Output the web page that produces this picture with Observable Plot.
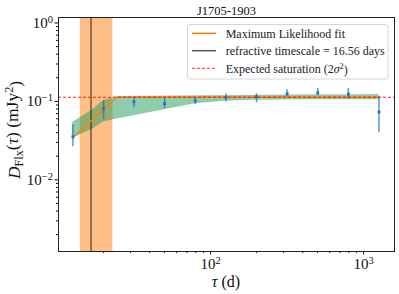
<!DOCTYPE html>
<html><head><meta charset="utf-8">
<script src="https://cdn.jsdelivr.net/npm/d3@7"></script>
<script src="https://cdn.jsdelivr.net/npm/@observablehq/plot@0.6"></script>
<style>body{margin:0;background:#fff;}</style>
</head><body><div id="chart"></div>
<script>
// ---- data ----
const tau        = [12.6, 20.0, 31.6, 50.1, 79.4, 125.9, 199.5, 316.2, 501.2, 794.3, 1258.9];
const dMeasured  = [0.0354, 0.0807, 0.099, 0.0935, 0.102, 0.112, 0.115, 0.125, 0.129, 0.124, 0.0733];
const dErrLow    = [0.0264, 0.0585, 0.083, 0.081, 0.091, 0.098, 0.096, 0.115, 0.117, 0.106, 0.040];
const dErrHigh   = [0.0505, 0.102, 0.111, 0.110, 0.111, 0.124, 0.125, 0.141, 0.147, 0.147, 0.115];

const bandTau    = [12.6, 16.6, 20.0, 24.5, 31.6, 50.1, 79.4, 125.9, 199.5, 316.2, 501.2, 794.3, 1258.9];
const bandLow    = [0.0345, 0.0436, 0.055, 0.060, 0.066, 0.079, 0.094, 0.1015, 0.104, 0.105, 0.106, 0.106, 0.106];
const bandHigh   = [0.0538, 0.0754, 0.102, 0.114, 0.115, 0.116, 0.117, 0.118, 0.119, 0.120, 0.121, 0.121, 0.122];

const fitTau     = [12.6, 24.5, 1258.9];
const fitD       = [0.0345, 0.114, 0.114];

const refractiveTimescale = [16.56];
const refractiveRangeLo   = [14.1];
const refractiveRangeHi   = [23.0];
const saturation          = [0.113];

const xMajor = [100, 1000];
const xMinor = [20, 30, 40, 50, 60, 70, 80, 90, 200, 300, 400, 500, 600, 700, 800, 900];
const yMajor = [0.01, 0.1, 1];
const yMinor = [0.002,0.003,0.004,0.005,0.006,0.007,0.008,0.009,0.02,0.03,0.04,0.05,0.06,0.07,0.08,0.09,0.2,0.3,0.4,0.5,0.6,0.7,0.8,0.9];

const titleText = ["J1705-1903"];
const legendLabels = ["Maximum Likelihood fit", "refractive timescale = 16.56 days", "Expected saturation (2"];

// ---- tables ----
const points = tau.map((t, i) => ({t, d: dMeasured[i], lo: dErrLow[i], hi: dErrHigh[i]}));
const band = bandTau.map((t, i) => ({t, lo: bandLow[i], hi: bandHigh[i]}));
const fit = fitTau.map((t, i) => ({t, d: fitD[i]}));
const span = refractiveRangeLo.map((lo, i) => ({lo, hi: refractiveRangeHi[i]}));

const expFmt = d => "10^" + Math.round(Math.log10(d));

const svg = Plot.plot({
  width: 399, height: 294,
  marginLeft: 58, marginRight: 5, marginTop: 17, marginBottom: 43,
  style: {fontFamily: "Liberation Serif", fontSize: "15px", color: "#111", background: "#fff"},
  x: {type: "log", domain: [10.15, 1590]},
  y: {type: "log", domain: [0.00122, 1.175]},
  marks: [
    Plot.rect(span, {x1: "lo", x2: "hi", fill: "#ff7f0e", fillOpacity: 0.5}),
    Plot.areaY(band, {x: "t", y1: "lo", y2: "hi", fill: "#1f9a5a", fillOpacity: 0.5, stroke: "#1f9a5a", strokeOpacity: 0.3, strokeWidth: 0.5}),
    Plot.ruleX(refractiveTimescale, {stroke: "#000", strokeOpacity: 0.55, strokeWidth: 1.5}),
    Plot.line(fit, {x: "t", y: "d", stroke: "#ff7f0e", strokeWidth: 1.5}),
    Plot.ruleX(points, {x: "t", y1: "lo", y2: "hi", stroke: "#1f77b4", strokeOpacity: 0.75, strokeWidth: 1.5}),
    Plot.dot(points, {x: "t", y: "d", symbol: "square", r: 1.6, fill: "#1f77b4", stroke: null}),
    Plot.ruleY(saturation, {stroke: "red", strokeWidth: 1, strokeDasharray: "3,2", strokeOpacity: 0.85}),
    Plot.frame({stroke: "#222", strokeWidth: 1}),
    Plot.axisX(xMajor, {tickSize: 3.5, tickPadding: 3, tickFormat: expFmt, label: null, fontSize: 15}),
    Plot.axisX(xMinor, {tickSize: 2, tickFormat: () => "", label: null}),
    Plot.axisY(yMajor, {tickSize: 3.5, tickPadding: 2, tickFormat: expFmt, label: null, fontSize: 15}),
    Plot.axisY(yMinor, {tickSize: 2, tickFormat: () => "", label: null}),
    Plot.text(titleText, {text: d => d, frameAnchor: "top", lineAnchor: "bottom", dy: -2.5, fontSize: 12.5, fill: "#111"})
  ]
});

const S = d3.select(svg);
// superscript tick labels
S.selectAll("text").each(function () {
  const m = /^10\^(-?\d+)$/.exec(this.textContent);
  if (m) {
    const sel = d3.select(this);
    sel.text("10");
    sel.append("tspan").attr("dy", "-0.45em").attr("font-size", "0.7em").text(m[1].replace("-", "\u2212"));
  }
});

// axis labels
const fx = (58 + 394) / 2, fy = (17 + 251) / 2;
S.append("text").attr("x", fx).attr("y", 287).attr("text-anchor", "middle")
  .attr("font-size", 16).attr("fill", "#111")
  .call(t => { t.append("tspan").attr("font-style", "italic").text("τ"); t.append("tspan").text(" (d)"); });

const yl = S.append("text").attr("transform", `translate(19.5,${fy - 4}) rotate(-90)`)
  .attr("text-anchor", "middle").attr("font-size", 17.5).attr("fill", "#111");
yl.append("tspan").attr("font-style", "italic").text("D");
yl.append("tspan").attr("font-size", "0.7em").attr("dy", "0.25em").text("Flx");
yl.append("tspan").attr("dy", "-0.25em").text("(");
yl.append("tspan").attr("font-style", "italic").text("τ");
yl.append("tspan").text(") (mJy");
yl.append("tspan").attr("font-size", "0.7em").attr("dy", "-0.45em").text("2");
yl.append("tspan").attr("dy", "0.45em").text(")");

// legend
const lg = S.append("g").attr("font-size", 12).attr("fill", "#222").attr("text-anchor", "start");
lg.append("rect").attr("x", 187.5).attr("y", 24.5).attr("width", 200.5).attr("height", 54.5)
  .attr("rx", 2.5).attr("fill", "#fff").attr("fill-opacity", 0.85).attr("stroke", "#d6d6d6");
const rows = [33.3, 50.7, 68.3];
const styles = [
  {stroke: "#ff7f0e", w: 1.5, dash: null, op: 1},
  {stroke: "#000", w: 1.5, dash: null, op: 0.65},
  {stroke: "red", w: 1, dash: "3,2", op: 0.85}
];
rows.forEach((y, i) => {
  lg.append("line").attr("x1", 192).attr("x2", 216).attr("y1", y).attr("y2", y)
    .attr("stroke", styles[i].stroke).attr("stroke-width", styles[i].w)
    .attr("stroke-opacity", styles[i].op).attr("stroke-dasharray", styles[i].dash);
  const t = lg.append("text").attr("x", 225.7).attr("y", y).attr("dy", "0.35em");
  t.append("tspan").text(legendLabels[i]);
  if (i === 2) {
    t.append("tspan").attr("font-style", "italic").text("σ");
    t.append("tspan").attr("font-size", "0.7em").attr("dy", "-0.45em").text("2");
    t.append("tspan").attr("dy", "0.45em").text(")");
  }
});

document.getElementById("chart").appendChild(svg);
</script>
</body></html>
